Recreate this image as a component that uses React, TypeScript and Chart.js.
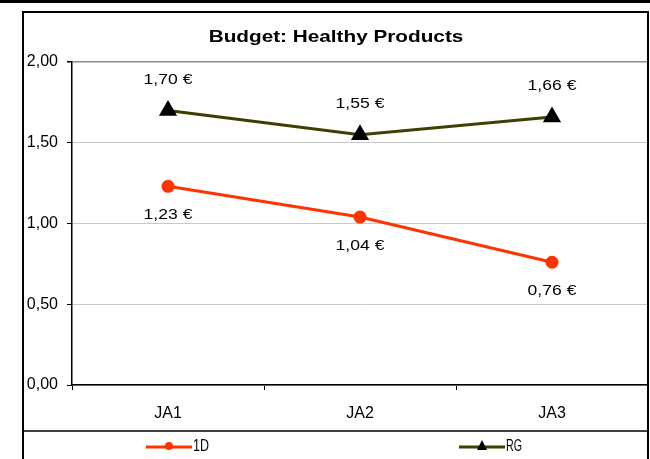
import React, { useEffect, useRef } from "react";
import { Chart, registerables } from "chart.js";

Chart.register(...registerables);

const categories = ["JA1", "JA2", "JA3"];
const series1D = [1.23, 1.04, 0.76];
const seriesRG = [1.7, 1.55, 1.66];
const seriesNames = ["1D", "RG"];
const chartTitle = "Budget: Healthy Products";
const yMin = 0;
const yMax = 2;
const yStep = 0.5;

const RED = "#FF3300";
const OLIVE = "#3F3F00";
const W = 650;
const H = 459;

const fmt = (v: number) => v.toFixed(2).replace(".", ",");

function scaledText(ctx: CanvasRenderingContext2D, text: string, x: number, y: number, font: string, sx: number, align: CanvasTextAlign) {
  ctx.save();
  ctx.translate(x, y);
  ctx.scale(sx, 1);
  ctx.font = font;
  ctx.fillStyle = "#000";
  ctx.textAlign = align;
  ctx.textBaseline = "middle";
  ctx.fillText(text, 0, 0);
  ctx.restore();
}

const decorPlugin = {
  id: "decor",
  afterDatasetsDraw(chart: any) {
    const ctx: CanvasRenderingContext2D = chart.ctx;
    chart.data.datasets.forEach((ds: any, i: number) => {
      const meta = chart.getDatasetMeta(i);
      meta.data.forEach((pt: any, j: number) => {
        const v = ds.data[j];
        const off = i === 1 ? -31 : 28.5;
        scaledText(ctx, fmt(v) + " €", pt.x, pt.y + off, "15px 'Liberation Sans', Arial, sans-serif", 1.17, "center");
      });
    });
  },
  afterDraw(chart: any) {
    const ctx: CanvasRenderingContext2D = chart.ctx;
    ctx.save();
    ctx.fillStyle = "#000";
    ctx.fillRect(0, 0, W, 3);
    ctx.strokeStyle = "#000";
    ctx.lineWidth = 2;
    ctx.beginPath();
    ctx.moveTo(23, H);
    ctx.lineTo(23, 12);
    ctx.lineTo(648, 12);
    ctx.lineTo(648, H);
    ctx.stroke();
    ctx.lineWidth = 1.5;
    ctx.beginPath();
    ctx.moveTo(23, 431);
    ctx.lineTo(648, 431);
    ctx.stroke();
    ctx.restore();

    scaledText(ctx, chartTitle, 336, 37, "bold 17px 'Liberation Sans', Arial, sans-serif", 1.22, "center");

    const items = [
      { name: seriesNames[0], color: RED, x0: 146, x1: 192, marker: "circle" },
      { name: seriesNames[1], color: OLIVE, x0: 459, x1: 505, marker: "triangle" },
    ];
    const ly = 447;
    items.forEach((it) => {
      ctx.save();
      ctx.strokeStyle = it.color;
      ctx.lineWidth = 3;
      ctx.beginPath();
      ctx.moveTo(it.x0, ly);
      ctx.lineTo(it.x1, ly);
      ctx.stroke();
      const cx = (it.x0 + it.x1) / 2;
      if (it.marker === "circle") {
        ctx.fillStyle = RED;
        ctx.beginPath();
        ctx.arc(cx, ly - 1, 4, 0, Math.PI * 2);
        ctx.fill();
      } else {
        ctx.fillStyle = "#000";
        ctx.beginPath();
        ctx.moveTo(cx, ly - 7);
        ctx.lineTo(cx + 5, ly + 3);
        ctx.lineTo(cx - 5, ly + 3);
        ctx.closePath();
        ctx.fill();
      }
      ctx.font = "17px 'Liberation Sans Narrow', 'Arial Narrow', sans-serif";
      ctx.fillStyle = "#000";
      ctx.textAlign = "left";
      ctx.textBaseline = "middle";
      ctx.fillText(it.name, it.x1 + 1, ly - 1, 16);
      ctx.restore();
    });
  },
};

export default function App() {
  const ref = useRef<HTMLCanvasElement | null>(null);
  useEffect(() => {
    if (!ref.current) return;
    const chart = new Chart(ref.current, {
      type: "line",
      data: {
        labels: categories,
        datasets: [
          {
            label: seriesNames[0],
            data: series1D,
            borderColor: RED,
            backgroundColor: RED,
            borderWidth: 3,
            pointStyle: "circle",
            pointRadius: 6.5,
            pointBackgroundColor: RED,
            pointBorderColor: RED,
            pointBorderWidth: 0,
            tension: 0,
          },
          {
            label: seriesNames[1],
            data: seriesRG,
            borderColor: OLIVE,
            backgroundColor: "#000",
            borderWidth: 3,
            pointStyle: "triangle",
            pointRadius: 10.5,
            pointBackgroundColor: "#000",
            pointBorderColor: "#000",
            pointBorderWidth: 0,
            tension: 0,
          },
        ],
      },
      options: {
        responsive: false,
        animation: false,
        devicePixelRatio: 1,
        layout: { autoPadding: false, padding: { left: 0, right: 2, top: 62, bottom: 0 } },
        plugins: {
          legend: { display: false },
          title: { display: false },
          tooltip: { enabled: false },
        },
        scales: {
          x: {
            type: "category",
            offset: true,
            grid: {
              offset: true,
              drawOnChartArea: false,
              drawTicks: true,
              tickLength: 5,
              tickColor: "#000",
            },
            border: { color: "#000", width: 1.5 },
            ticks: {
              color: "#000",
              padding: 14,
              font: { family: "'Liberation Sans', Arial, sans-serif", size: 16 },
            },
            afterFit: (scale: any) => {
              scale.height = H - 385;
              scale.paddingLeft = 0;
              scale.paddingRight = 0;
            },
          },
          y: {
            min: yMin,
            max: yMax,
            ticks: {
              stepSize: yStep,
              color: "#000",
              padding: 9,
              font: { family: "'Liberation Sans', Arial, sans-serif", size: 16 },
              callback: (v: any) => fmt(Number(v)),
            },
            grid: {
              color: (c: any) => (c.tick && c.tick.value === yMax ? "#8c8c8c" : "#c8c8c8"),
              lineWidth: (c: any) => (c.tick && c.tick.value === yMax ? 1.5 : 1),
              tickLength: 5,
              tickColor: "#000",
            },
            border: { color: "#000", width: 1.5 },
            afterFit: (scale: any) => {
              scale.width = 72;
              scale.paddingLeft = 0;
              scale.paddingRight = 0;
            },
          },
        },
      },
      plugins: [decorPlugin],
    });
    return () => chart.destroy();
  }, []);
  return (
    <div style={{ position: "absolute", left: 0, top: 0, width: W, height: H, background: "#fff" }}>
      <canvas ref={ref} width={W} height={H} style={{ display: "block", width: W, height: H }} />
    </div>
  );
}
